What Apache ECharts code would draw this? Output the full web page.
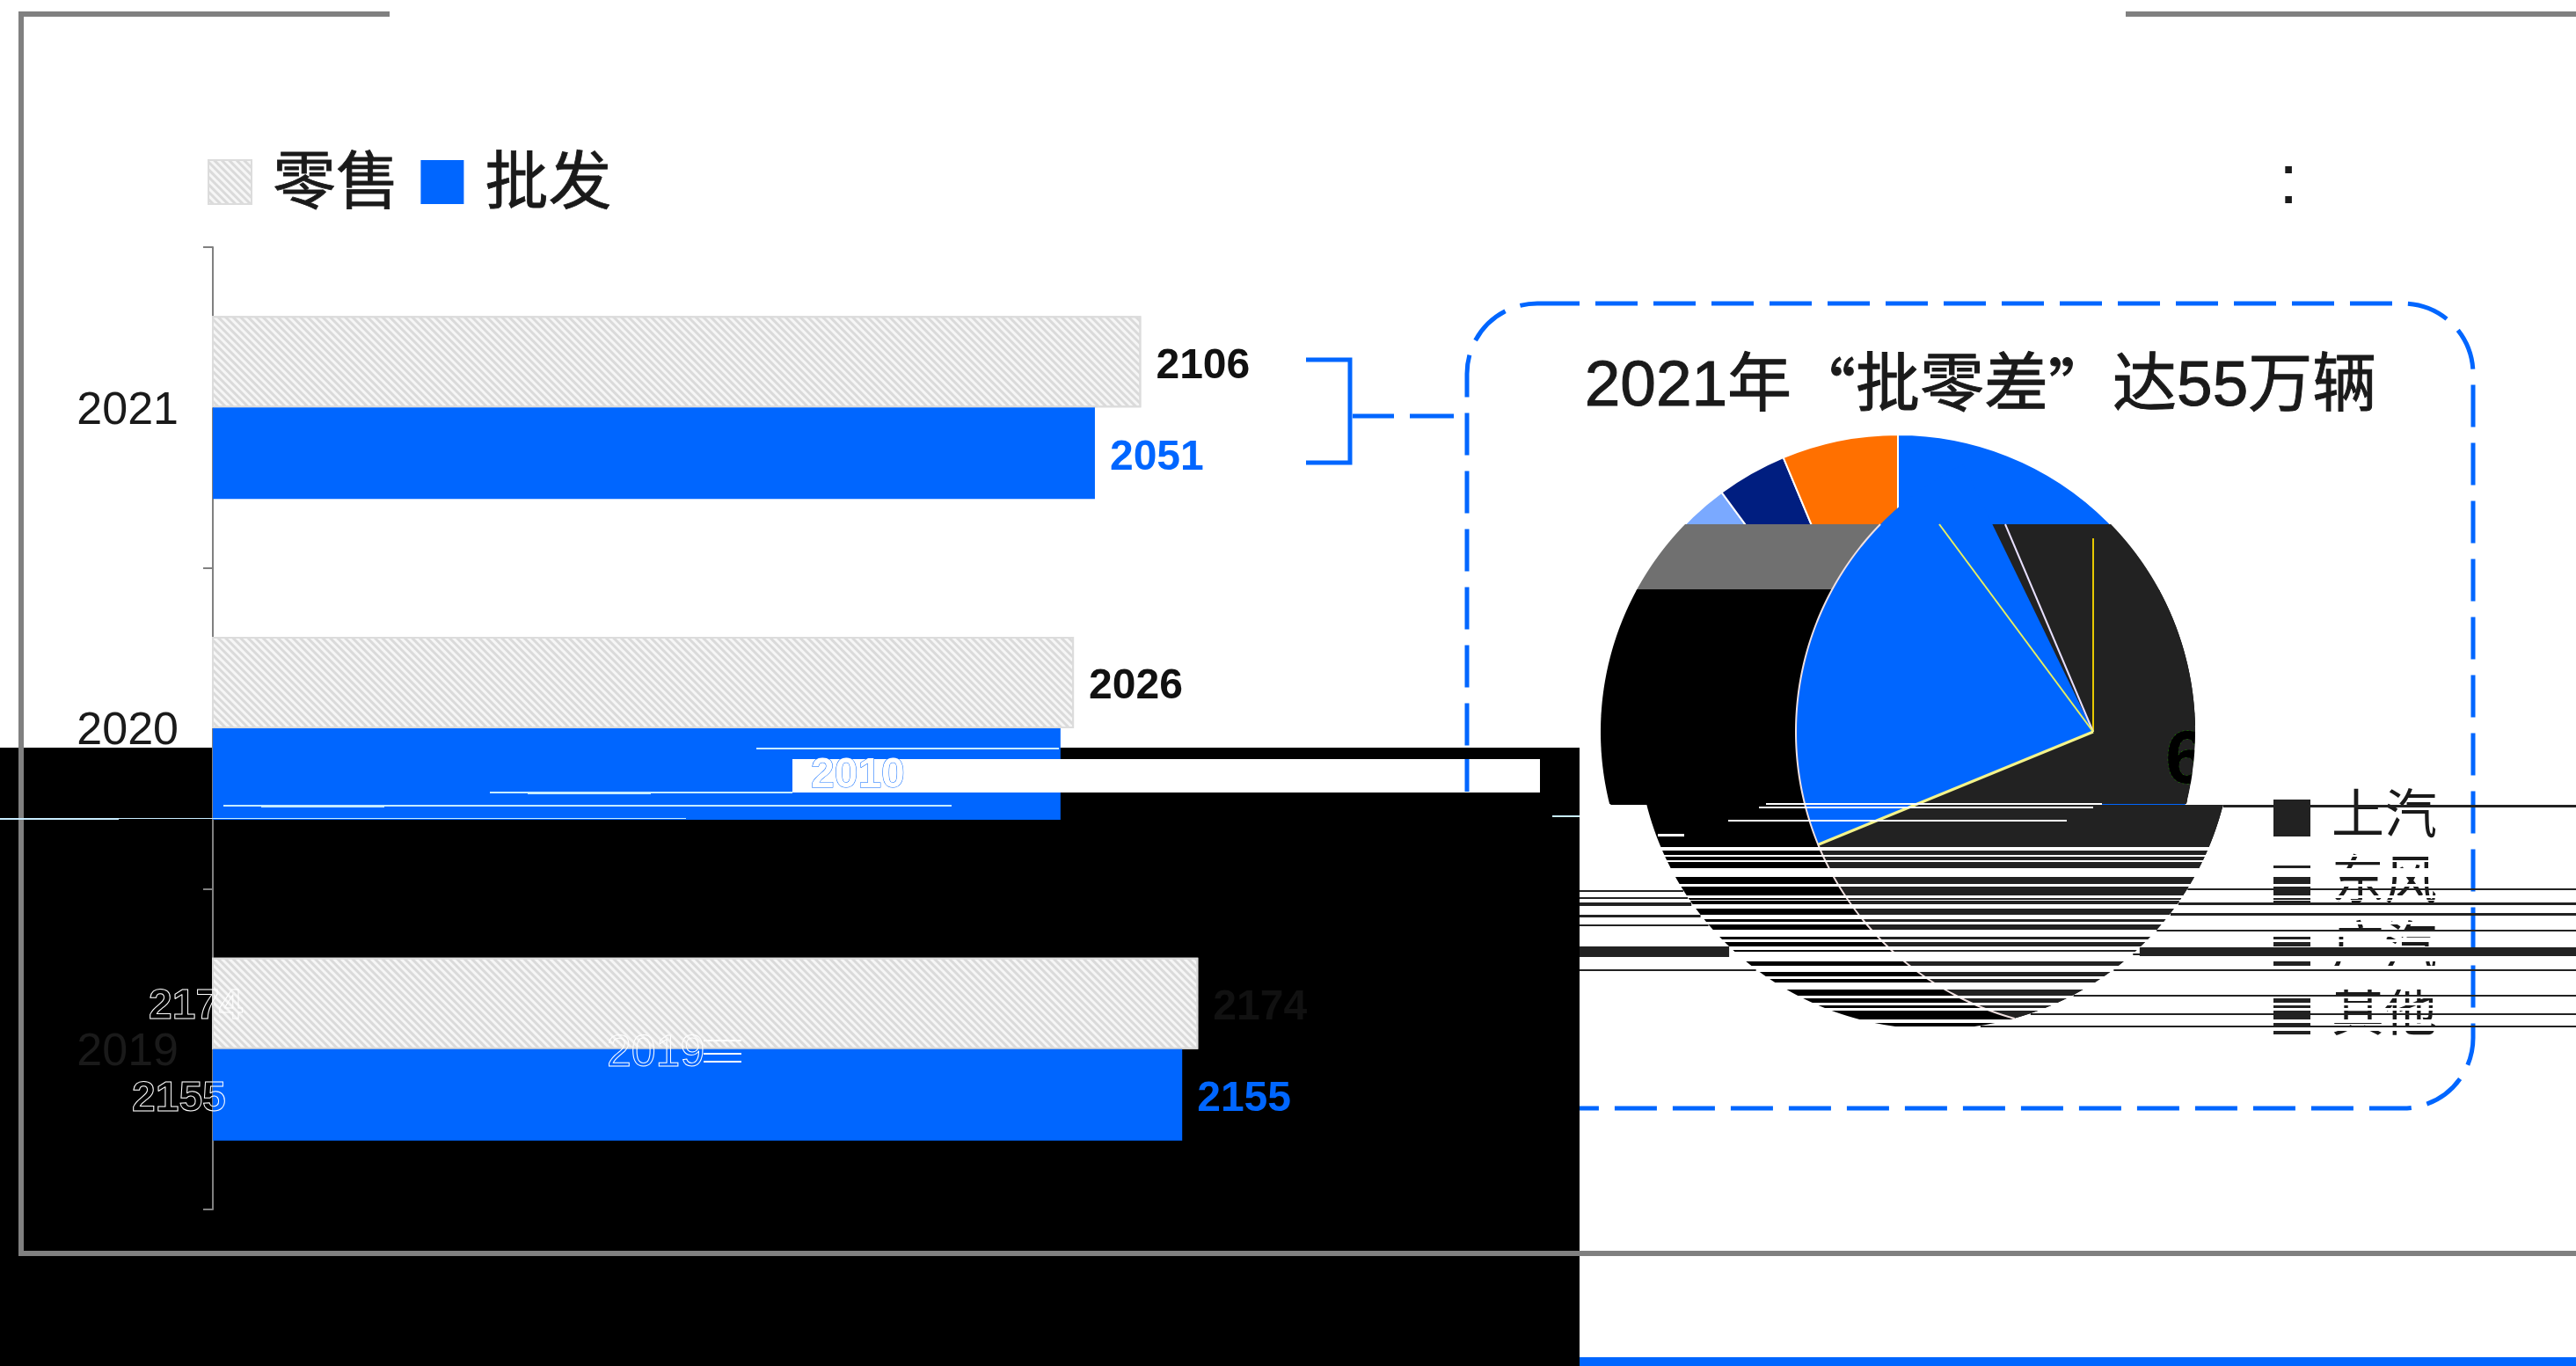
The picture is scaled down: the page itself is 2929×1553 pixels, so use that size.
<!DOCTYPE html>
<html>
<head>
<meta charset="utf-8">
<style>html,body{margin:0;padding:0;background:#fff}#chart{width:2929px;height:1553px}</style>
<script src="https://cdn.jsdelivr.net/npm/echarts@6/dist/echarts.min.js"></script>
</head>
<body>
<div id="chart"></div>
<script>
// 销量（万辆）
const years = ['2021', '2020', '2019'];
const retail = [2106, 2026, 2174];
const wholesale = [2051, 2010, 2155];

// 份额（%），从正上方顺时针
const shareNames = ['上汽', '其他', '', '', '广汽', '东风'];
const shareValues = [63, 16, 6.9, 4, 3.8, 6.3];
const shareColors = ['#0066ff', '#000000', '#707070', '#7aa9ff', '#001e80', '#ff7000'];
const legendNames = ['上汽', '东风', '广汽', '其他'];

// 错位的扇区
const wedgeValues = [24, 76];

const FONT = '"Liberation Sans","Noto Sans CJK SC",sans-serif';
const CJK = '"Noto Sans CJK SC",sans-serif';
const BLUE = '#0066ff';
const GREY = '#808080';
const INK = '#1a1a1a';
const DARK = '#222222';

// 饼图几何
const R = 338, CY = 832, CX_UP = 2158, CX_LOW = 2200, CX_SHIFT = 2380, BREAK_Y = 915;
const half = y => Math.sqrt(Math.max(0, R * R - (y - CY) * (y - CY)));
const leftEdge = y => (y < BREAK_Y ? CX_UP : CX_LOW) - half(y);
const rightEdge = y => (y < BREAK_Y ? CX_UP : CX_LOW) + half(y);
const arcEdge = y => CX_SHIFT - half(y);

function band(y0, y1, leftFn, rightFn) {
  const a = [], b = [];
  for (let y = y0; y <= y1; y += 2) {
    const l = leftFn(y), r = rightFn(y);
    a.push([l, y]);
    b.unshift([Math.max(l, r), y]);
  }
  return a.concat(b);
}

const rectEl = (x, y, w, h, fill, z) => ({
  type: 'rect', silent: true, z,
  shape: { x, y, width: w, height: h },
  style: { fill }
});
const lineEl = (x1, y1, x2, y2, stroke, lineWidth, z, lineDash) => ({
  type: 'line', silent: true, z,
  shape: { x1, y1, x2, y2 },
  style: { stroke, lineWidth, lineDash }
});
const polyEl = (points, fill, z) => ({
  type: 'polygon', silent: true, z, shape: { points }, style: { fill }
});
const textEl = (text, x, y, font, fill, z, extra) => ({
  type: 'text', silent: true, z, x, y,
  style: Object.assign({ text, font, fill, textVerticalAlign: 'middle' }, extra || {})
});
const hollow = { stroke: '#ffffff', lineWidth: 1 };

// 横向扫描带
const whiteBands = [[963,4],[972,2],[978,2],[987,10],[1005,3],[1018,3],[1023,1],[1028,5],[1040,5],[1048,3],
  [1057,8],[1068,3],[1076,4],[1082,11],[1098,7],[1110,3],[1117,8],[1132,3],[1140,3],[1146,3],[1159,4],[1167,5]];
const whiteSpans = [[913,2,2008,2390],[917,2,2000,2380],[932,2,1965,2350],[948,3,1885,1915]];
const darkLeftRows = [[1012,2],[1020,2],[1026,4],[1040,3],[1051,2],[1076,12],[1102,2]];
const darkRightRows = [[915,3],[1010,2],[1026,3],[1038,3],[1057,2],[1077,10],[1084,2],[1102,2],[1131,2],[1152,2],[1166,2]];
const paleSpans = [[850,2,860,1204],[900,2,557,901],[902,1,600,740],[915,2,254,1082],[917,1,297,437],
  [930,2,0,135],[930,1,135,780],[927,2,1765,1796]];

const graphics = [];

// 外框
graphics.push(rectEl(21, 13, 422, 6, GREY, 10));
graphics.push(rectEl(21, 13, 6, 1415, GREY, 10));
graphics.push(rectEl(21, 1422, 2908, 6, GREY, 10));
graphics.push(rectEl(2417, 13, 512, 6, GREY, 10));

// 左下色块与底部色条
graphics.push(rectEl(0, 850, 1796, 703, '#000000', 8));
graphics.push(rectEl(1796, 1543, 1133, 10, BLUE, 8));

// 虚线圆角框
graphics.push({
  type: 'rect', silent: true, z: 7,
  shape: { x: 1668, y: 345, width: 1144, height: 915, r: 80 },
  style: { fill: 'none', stroke: BLUE, lineWidth: 5, lineDash: [48, 18] }
});

// 括号与连接线
graphics.push({
  type: 'polyline', silent: true, z: 7,
  shape: { points: [[1485, 409], [1535, 409], [1535, 526], [1485, 526]] },
  style: { fill: 'none', stroke: BLUE, lineWidth: 5 }
});
graphics.push(lineEl(1538, 473, 1585, 473, BLUE, 5, 7));
graphics.push(lineEl(1603, 473, 1653, 473, BLUE, 5, 7));

// 饼图下方的分层
graphics.push(rectEl(1796, BREAK_Y, 1133, 270, '#ffffff', 4));
graphics.push(polyEl(band(596, 672, leftEdge, rightEdge), '#707070', 4));
graphics.push(polyEl(band(670, BREAK_Y, leftEdge, rightEdge), '#000000', 4));
graphics.push(polyEl(band(BREAK_Y, 1170, leftEdge, rightEdge), '#000000', 4));
graphics.push(polyEl(band(596, BREAK_Y, y => Math.min(arcEdge(y), rightEdge(y)), rightEdge), DARK, 4));
graphics.push(polyEl(band(BREAK_Y, 1170, y => Math.min(arcEdge(y), rightEdge(y)), rightEdge), DARK, 4));

// 扇区细线
graphics.push(lineEl(2380, 832, 2380, 612, '#e6c800', 2, 6));
graphics.push(lineEl(2380, 832, 2280, 596, '#e8e0ff', 2, 6));
graphics.push(lineEl(2380, 832, 2205, 596, '#e8f060', 2, 6));
graphics.push(lineEl(2380, 832, 2068, 960, '#f4f48a', 3, 6));
graphics.push({
  type: 'polyline', silent: true, z: 6,
  shape: { points: Array.from({ length: 282 }, (_, i) => { const y = 596 + i * 2; return [arcEdge(y), y]; }) },
  style: { fill: 'none', stroke: '#f0e0e0', lineWidth: 2 }
});

// 饼图标签
graphics.push(textEl('6', 2462, 866, 'bold 86px ' + FONT, '#000000', 6,
  { stroke: '#1f8a00', lineWidth: 1, lineDash: [2, 3] }));
graphics.push(polyEl(band(825, 910, rightEdge, () => 2560), '#ffffff', 6));

whiteBands.forEach(([y, h]) => graphics.push(rectEl(1796, y, 1133, h, '#ffffff', 6)));
whiteSpans.forEach(([y, h, x0, x1]) => graphics.push(rectEl(x0, y, x1 - x0, h, '#ffffff', 6)));
darkLeftRows.forEach(([y, h]) => graphics.push(rectEl(1796, y, leftEdge(y) - 1796, h, DARK, 8)));
darkRightRows.forEach(([y, h]) => graphics.push(rectEl(rightEdge(y), y, 2929 - rightEdge(y), h, DARK, 8)));

// 柱区白条与残影
graphics.push(rectEl(901, 863, 850, 38, '#ffffff', 11));
graphics.push(lineEl(1668, 863, 1668, 900, BLUE, 5, 12));
graphics.push(textEl('2010', 922, 882, 'bold 48px ' + FONT, '#ffffff', 12,
  { stroke: BLUE, lineWidth: 1 }));
paleSpans.forEach(([y, h, x0, x1]) => graphics.push(rectEl(x0, y, x1 - x0, h, '#c8ecff', 12)));
graphics.push(textEl('2174', 169, 1145, 'bold 48px ' + FONT, 'transparent', 12, hollow));
graphics.push(textEl('2155', 150, 1250, 'bold 48px ' + FONT, 'transparent', 12, hollow));
graphics.push(textEl('2019', 690, 1198, '50px ' + FONT, 'transparent', 12, hollow));
graphics.push(lineEl(800, 1183, 843, 1183, '#ffffff', 2, 12));
graphics.push(lineEl(800, 1198, 843, 1198, '#ffffff', 2, 12));
graphics.push(lineEl(800, 1207, 843, 1207, '#ffffff', 2, 12));

// 右上角冒号
graphics.push(textEl(':', 2602, 209, '80px ' + FONT, INK, 4, { textAlign: 'center' }));

const retailStyle = {
  color: '#f6f6f6',
  borderColor: '#dcdcdc',
  borderWidth: 2,
  decal: {
    symbol: 'rect', symbolSize: 1,
    dashArrayX: [1, 0], dashArrayY: [3, 3],
    rotation: Math.PI / 4, color: '#dadada'
  }
};

const barLabel = color => ({
  show: true, position: 'right', distance: 17, offset: [0, 5],
  color, fontFamily: FONT, fontSize: 48, fontWeight: 'bold'
});

const titleFace = {
  fontFamily: FONT, fontSize: 73, fontWeight: 'normal', color: INK,
  textBorderColor: INK, textBorderWidth: 1
};

const option = {
  animation: false,
  backgroundColor: '#ffffff',
  title: {
    text: '{a|2021年}{q|“}{a|批零差}{q|”}{a|达55万辆}',
    left: 2247, top: 399, textAlign: 'center', z: 5,
    textStyle: {
      rich: {
        a: titleFace,
        q: Object.assign({}, titleFace, { fontFamily: CJK })
      }
    }
  },
  legend: [
    {
      left: 236, top: 167, padding: 0, orient: 'horizontal', itemWidth: 49, itemHeight: 50, itemGap: 24,
      selectedMode: false, icon: 'rect', z: 5,
      data: ['零售', '批发'],
      formatter: '{a|{name}}',
      textStyle: {
        rich: {
          a: {
            fontFamily: FONT, fontSize: 72, lineHeight: 72, color: INK, padding: [8, 0, 0, 19],
            textBorderColor: INK, textBorderWidth: 0.8
          }
        }
      }
    },
    {
      left: 2583, top: 900, padding: 0, orient: 'vertical', itemWidth: 44, itemHeight: 44, itemGap: 15,
      selectedMode: false, icon: 'rect', z: 5,
      data: legendNames.map(name => ({ name, itemStyle: { color: DARK } })),
      textStyle: { fontFamily: FONT, fontSize: 60, lineHeight: 60, color: INK, padding: [0, 0, 0, 18] }
    }
  ],
  grid: { left: 242, top: 281, width: 1336, height: 1094, containLabel: false },
  xAxis: { type: 'value', min: 1000, max: 2400, show: false },
  yAxis: {
    type: 'category', inverse: true, data: years, z: 9,
    axisLine: { lineStyle: { color: GREY, width: 2 } },
    axisTick: { show: true, inside: false, length: 11, lineStyle: { color: GREY, width: 2 } },
    axisLabel: {
      margin: 39,
      formatter: '{a|{value}}',
      rich: { a: { color: INK, fontFamily: FONT, fontSize: 52, padding: [8, 0, 0, 0] } }
    }
  },
  series: [
    {
      type: 'bar', name: '零售', data: retail, z: 9, barWidth: 104, barGap: 0,
      itemStyle: retailStyle, label: barLabel('#111111'), silent: true
    },
    {
      type: 'bar', name: '批发', data: wholesale, z: 9, barWidth: 104, barGap: 0,
      itemStyle: { color: BLUE }, label: barLabel(BLUE), silent: true
    },
    {
      type: 'pie', z: 3, center: [CX_UP, CY], radius: [0, R], startAngle: 90, silent: true,
      label: { show: false }, labelLine: { show: false },
      itemStyle: { borderColor: '#ffffff', borderWidth: 2 },
      data: shareValues.map((value, i) => ({ value, name: shareNames[i], itemStyle: { color: shareColors[i] } }))
    },
    {
      type: 'pie', z: 5, center: [CX_SHIFT, CY], radius: [0, R], startAngle: -157.7, silent: true,
      label: { show: false }, labelLine: { show: false },
      data: wedgeValues.map((value, i) => ({
        value,
        itemStyle: i < 1 ? { color: BLUE } : { color: 'transparent', borderWidth: 0 }
      }))
    }
  ],
  graphic: { elements: graphics }
};

const chart = echarts.init(document.getElementById('chart'), null, { renderer: 'canvas' });
chart.setOption(option);
</script>
</body>
</html>
